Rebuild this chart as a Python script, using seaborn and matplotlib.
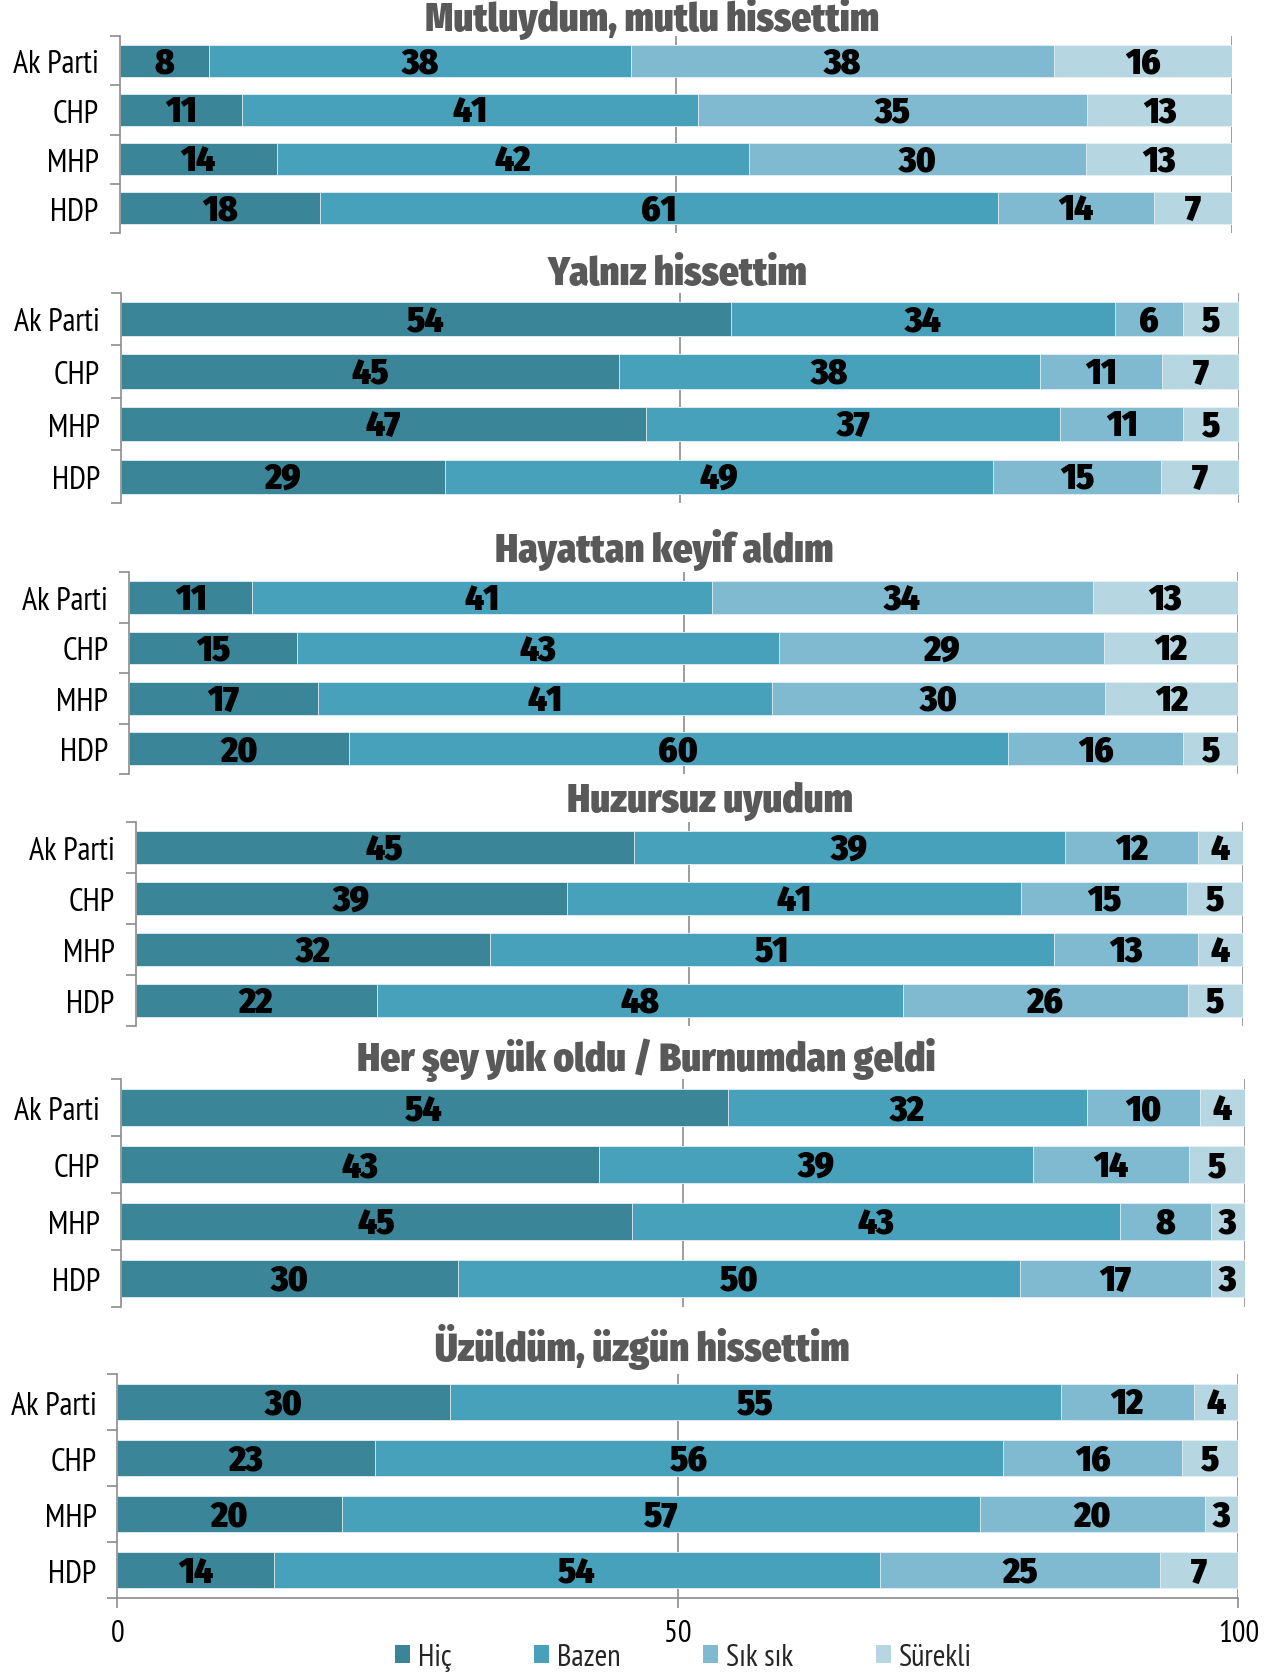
import numpy as np
import pandas as pd
import matplotlib
matplotlib.use('Agg')
import matplotlib.pyplot as plt
from matplotlib.patches import Patch
import seaborn as sns

# ─── Data ─────────────────────────────────────────────────────────────────────

parties = ['Ak Parti', 'CHP', 'MHP', 'HDP']
levels  = ['Hiç', 'Bazen', 'Sık sık', 'Sürekli']
colors  = ['#3A8598', '#48A1BA', '#7FBAD0', '#B6D6E1']

titles = [
    'Mutluydum, mutlu hissettim',
    'Yalnız hissettim',
    'Hayattan keyif aldım',
    'Huzursuz uyudum',
    'Her şey yük oldu / Burnumdan geldi',
    'Üzüldüm, üzgün hissettim',
]

# rows = parties, columns = levels
mutlu   = [[8, 38, 38, 16], [11, 41, 35, 13], [14, 42, 30, 13], [18, 61, 14, 7]]
yalniz  = [[54, 34, 6, 5],  [45, 38, 11, 7],  [47, 37, 11, 5],  [29, 49, 15, 7]]
keyif   = [[11, 41, 34, 13], [15, 43, 29, 12], [17, 41, 30, 12], [20, 60, 16, 5]]
huzur   = [[45, 39, 12, 4], [39, 41, 15, 5],  [32, 51, 13, 4],  [22, 48, 26, 5]]
yuk     = [[54, 32, 10, 4], [43, 39, 14, 5],  [45, 43, 8, 3],   [30, 50, 17, 3]]
uzgun   = [[30, 55, 12, 4], [23, 56, 16, 5],  [20, 57, 20, 3],  [14, 54, 25, 7]]
panels  = [mutlu, yalniz, keyif, huzur, yuk, uzgun]

# ─── Layout (pixel positions in a 1200x1568 frame) ────────────────────────────
W, H = 1200, 1568
# left, right, top, bottom, title centre x, title centre y
boxes = [
    (112, 1154,   35,  219, 611,   18),
    (113, 1161,  275,  472, 635,  257),
    (121, 1160,  537,  726, 622,  515),
    (127, 1164,  771,  962, 665,  751),
    (113, 1166, 1012, 1225, 605,  993),
    (110, 1160, 1288, 1498, 602, 1262),
]

LABEL_FONT = ['PT Sans Narrow', 'DejaVu Sans']
HEAVY_FONT = ['Fira Sans Condensed', 'DejaVu Sans']

sns.set_theme(style='white')
plt.rcParams['font.family'] = LABEL_FONT

fig = plt.figure(figsize=(12.81, 16.74), dpi=100)
GRAY = '#8C8C8C'

for k, (vals, title, box) in enumerate(zip(panels, titles, boxes)):
    l, r, t, b, tx, ty = box
    ax = fig.add_axes([l / W, 1 - b / H, (r - l) / W, (b - t) / H])

    arr  = np.array(vals, dtype=float)
    norm = arr / arr.sum(axis=1, keepdims=True) * 100
    cum  = np.cumsum(norm, axis=1)

    # stacked bars: draw the cumulative totals from the longest to the shortest
    for j in range(len(levels) - 1, -1, -1):
        df = pd.DataFrame({'party': parties, 'value': cum[:, j]})
        sns.barplot(data=df, x='value', y='party', color=colors[j], width=0.65,
                    saturation=1, edgecolor='#E6F0F4', linewidth=0.6, ax=ax,
                    orient='h', zorder=2)

    for i in range(len(parties)):
        for j in range(len(levels)):
            centre = cum[i, j] - norm[i, j] / 2
            ax.text(centre, i + 0.03, f'{int(arr[i, j])}', ha='center', va='center',
                    fontsize=26, fontweight=900, family=HEAVY_FONT,
                    color='black', zorder=5)

    ax.set_xlim(0, 100)
    ax.set_ylim(3.5, -0.5)
    for xv in (50, 100):
        ax.axvline(xv, color=GRAY, lw=1.2, zorder=1)

    ax.set_xlabel(''); ax.set_ylabel('')
    ax.set_yticks(range(len(parties)))
    ax.set_yticklabels(parties, fontsize=23, color='black')
    ax.set_yticks(np.arange(-0.5, 4.0, 1.0), minor=True)
    ax.tick_params(axis='y', which='major', length=0, pad=15)
    ax.tick_params(axis='y', which='minor', length=7, width=1.2, color=GRAY,
                   direction='out', left=True)

    for s in ('top', 'right'):
        ax.spines[s].set_visible(False)
    ax.spines['left'].set_color(GRAY)
    ax.spines['left'].set_linewidth(1.2)

    if k == len(panels) - 1:
        ax.spines['bottom'].set_color(GRAY)
        ax.spines['bottom'].set_linewidth(1.2)
        ax.set_xticks([0, 50, 100])
        ax.set_xticklabels(['0', '50', '100'], fontsize=22, color='black')
        ax.tick_params(axis='x', length=7, width=1.2, color=GRAY,
                       direction='out', bottom=True, pad=8)
    else:
        ax.spines['bottom'].set_visible(False)
        ax.set_xticks([])

    fig.text(tx / W, 1 - ty / H, title, ha='center', va='center',
             fontsize=28, fontweight=900, family=HEAVY_FONT, color='#595959')

handles = [Patch(facecolor=c, edgecolor='none', label=n) for c, n in zip(colors, levels)]
fig.legend(handles=handles, loc='center', bbox_to_anchor=(640 / W, 1 - 1553 / H),
           ncol=4, frameon=False, fontsize=22, handlelength=0.5, handleheight=0.5,
           handletextpad=0.25, columnspacing=2.7, borderpad=0)

fig.savefig('out.png', dpi=100)
